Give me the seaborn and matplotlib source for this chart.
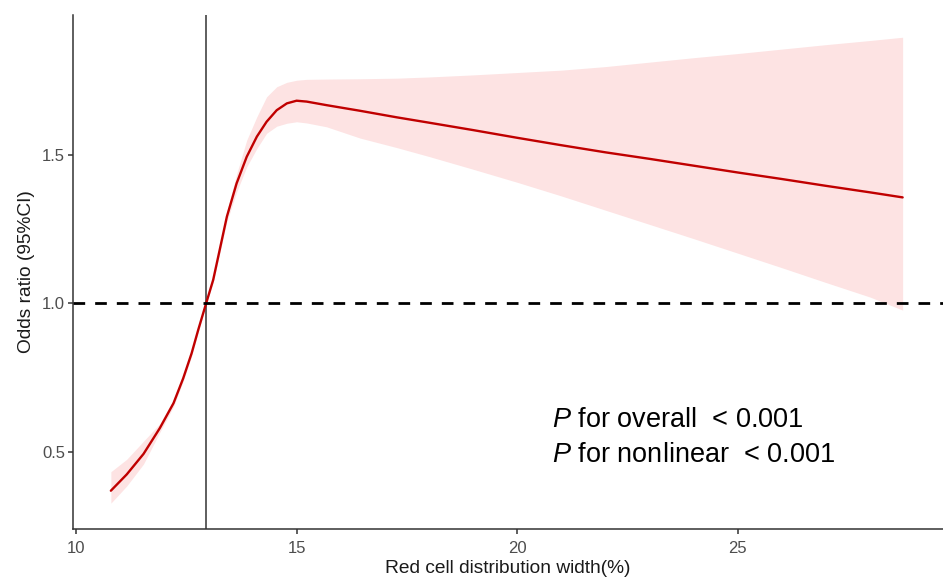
import numpy as np
import pandas as pd
import matplotlib
matplotlib.use("Agg")
import matplotlib.pyplot as plt
import seaborn as sns

# ---- data ----
rdw = [10.79, 11.15, 11.53, 11.90, 12.21, 12.43, 12.62, 12.77, 12.95, 13.11,
       13.25, 13.42, 13.64, 13.87, 14.10, 14.32, 14.55, 14.78, 15.0, 15.23,
       15.68, 16.44, 17.27, 18, 19, 20, 21, 22, 23, 24, 25, 26, 27, 28, 28.74]
or_fit = [0.368, 0.423, 0.492, 0.579, 0.663, 0.747, 0.831, 0.910, 1.0, 1.079,
          1.175, 1.292, 1.404, 1.494, 1.562, 1.612, 1.651, 1.674, 1.683, 1.680,
          1.668, 1.649, 1.627, 1.609, 1.584, 1.558, 1.533, 1.509, 1.487, 1.464,
          1.441, 1.419, 1.396, 1.374, 1.357]
or_lower = [0.326, 0.384, 0.458, 0.565, 0.652, 0.737, 0.821, 0.902, 0.995, 1.07,
            1.162, 1.275, 1.375, 1.46, 1.522, 1.573, 1.597, 1.607, 1.612, 1.608,
            1.595, 1.557, 1.525, 1.495, 1.452, 1.408, 1.362, 1.314, 1.266, 1.218,
            1.169, 1.12, 1.07, 1.021, 0.977]
or_upper = [0.432, 0.474, 0.535, 0.594, 0.675, 0.757, 0.841, 0.918, 1.005, 1.088,
            1.19, 1.31, 1.435, 1.55, 1.629, 1.696, 1.73, 1.745, 1.752, 1.755,
            1.756, 1.757, 1.759, 1.763, 1.770, 1.778, 1.786, 1.798, 1.813, 1.828,
            1.842, 1.857, 1.872, 1.886, 1.897]
ref_rdw = 12.95
ref_or = 1.0
x_ticks = [10, 15, 20, 25]
y_ticks = [0.5, 1.0, 1.5]
annot_lines = ["for overall  < 0.001", "for nonlinear  < 0.001"]

df = pd.DataFrame({"rdw": rdw, "fit": or_fit, "lo": or_lower, "hi": or_upper})

sns.set_theme(style="white")
plt.rcParams["font.family"] = ["Liberation Sans", "DejaVu Sans"]
plt.rcParams["mathtext.fontset"] = "custom"
plt.rcParams["mathtext.it"] = "Liberation Sans:italic"
plt.rcParams["mathtext.rm"] = "Liberation Sans"

fig = plt.figure(figsize=(9.43, 5.79), dpi=100)
ax = fig.add_axes([0.0771, 0.0864, 0.9229, 0.8877])

ax.fill_between(df["rdw"], df["lo"], df["hi"], color="#FDE3E3", linewidth=0, zorder=1)
sns.lineplot(data=df, x="rdw", y="fit", ax=ax, color="#C00000", linewidth=1.7,
             zorder=3, sort=False)

ax.axvline(ref_rdw, color="#333333", linewidth=1.1, zorder=2)
ax.axhline(ref_or, color="black", linewidth=2.0, dashes=(4.2, 3.6), zorder=4)

ax.set_xlim(9.925, 29.655)
ax.set_ylim(0.239, 1.972)
ax.set_xticks(x_ticks)
ax.set_yticks(y_ticks)
ax.set_xticklabels([str(t) for t in x_ticks])
ax.set_yticklabels([f"{t:.1f}" for t in y_ticks])

for side in ["top", "right"]:
    ax.spines[side].set_visible(False)
for side in ["left", "bottom"]:
    ax.spines[side].set_color("#333333")
    ax.spines[side].set_linewidth(1.1)

ax.tick_params(axis="both", which="major", length=3.6, width=1.1, color="#333333",
               labelcolor="#4D4D4D", labelsize=12, bottom=True, left=True)
ax.tick_params(axis="x", pad=5)
ax.tick_params(axis="y", pad=2)

ax.set_xlabel("Red cell distribution width(%)", fontsize=13.8, color="#1A1A1A", labelpad=3)
ax.set_ylabel("Odds ratio (95%CI)", fontsize=13.8, color="#1A1A1A", labelpad=5)

ax.text(20.78, 0.584, r"$\mathit{P}$ " + annot_lines[0], fontsize=19.5, color="black",
        va="baseline", ha="left")
ax.text(20.78, 0.466, r"$\mathit{P}$ " + annot_lines[1], fontsize=19.5, color="black",
        va="baseline", ha="left")

fig.savefig("out.png", dpi=100)
